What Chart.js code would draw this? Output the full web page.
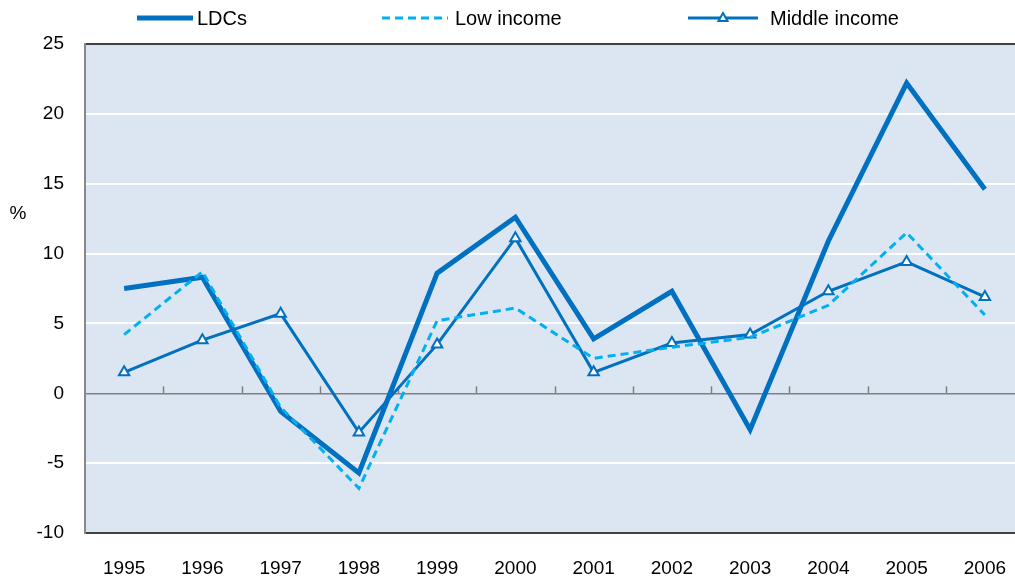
<!DOCTYPE html>
<html>
<head>
<meta charset="utf-8">
<script src="https://cdn.jsdelivr.net/npm/chart.js@4"></script>
<style>
  html, body { margin: 0; padding: 0; background: #fff; overflow: hidden; }
  #chart { display: block; }
</style>
</head>
<body>
<canvas id="chart" width="1032" height="578"></canvas>
<script>
const years = ['1995', '1996', '1997', '1998', '1999', '2000', '2001', '2002', '2003', '2004', '2005', '2006'];
const ldcs = [7.5, 8.3, -1.3, -5.7, 8.6, 12.6, 3.9, 7.3, -2.6, 10.9, 22.2, 14.6];
const lowIncome = [4.2, 8.7, -1.0, -6.8, 5.2, 6.1, 2.5, 3.3, 4.0, 6.3, 11.5, 5.6];
const middleIncome = [1.5, 3.8, 5.7, -2.8, 3.5, 11.1, 1.5, 3.6, 4.2, 7.3, 9.4, 6.9];
const yTicks = [-10, -5, 0, 5, 10, 15, 20, 25];

const fontFamily = '"Liberation Sans", Arial, sans-serif';

// plot background + category tick marks on the zero line
const plotBg = {
    id: 'plotBg',
    beforeDraw: function(chart) {
        const a = chart.chartArea;
        const ctx = chart.ctx;
        ctx.save();
        ctx.fillStyle = '#dce6f2';
        ctx.fillRect(a.left, a.top, a.right - a.left, a.bottom - a.top);
        ctx.restore();
    },
    beforeDatasetsDraw: function(chart) {
        const x = chart.scales.x, y = chart.scales.y;
        const ctx = chart.ctx;
        const y0 = y.getPixelForValue(0);
        const half = (x.getPixelForValue(1) - x.getPixelForValue(0)) / 2;
        ctx.save();
        ctx.strokeStyle = '#808080';
        ctx.lineWidth = 1.5;
        for (let i = 1; i < years.length; i++) {
            const px = Math.round(x.getPixelForValue(i) - half) + 0.5;
            ctx.beginPath();
            ctx.moveTo(px, y0);
            ctx.lineTo(px, y0 - 7);
            ctx.stroke();
        }
        ctx.restore();
    }
};

// legend along the top and the "%" unit label
const topLegend = {
    id: 'topLegend',
    afterDraw: function(chart) {
        const ctx = chart.ctx;
        const ly = 18;
        const items = [
            { ds: 0, x1: 137, x2: 193, tx: 197 },
            { ds: 1, x1: 382, x2: 448, tx: 455 },
            { ds: 2, x1: 688, x2: 758, tx: 770 }
        ];
        ctx.save();
        ctx.font = '20px ' + fontFamily;
        ctx.textBaseline = 'middle';
        ctx.fillStyle = '#000';
        items.forEach(function(it) {
            const d = chart.data.datasets[it.ds];
            ctx.save();
            ctx.strokeStyle = d.borderColor;
            ctx.lineWidth = d.borderWidth;
            ctx.setLineDash(d.borderDash || []);
            ctx.beginPath();
            ctx.moveTo(it.x1, ly);
            ctx.lineTo(it.x2, ly);
            ctx.stroke();
            ctx.restore();
            if (d.pointStyle === 'triangle') {
                const cx = (it.x1 + it.x2) / 2, r = 5;
                ctx.save();
                ctx.fillStyle = '#fff';
                ctx.strokeStyle = d.borderColor;
                ctx.lineWidth = 2;
                ctx.beginPath();
                ctx.moveTo(cx, ly - r);
                ctx.lineTo(cx + r * 0.9, ly + r * 0.6);
                ctx.lineTo(cx - r * 0.9, ly + r * 0.6);
                ctx.closePath();
                ctx.fill();
                ctx.stroke();
                ctx.restore();
            }
            ctx.fillText(d.label, it.tx, ly + 1);
        });
        ctx.font = '19px ' + fontFamily;
        ctx.textAlign = 'center';
        ctx.fillText('%', 18, 214);
        ctx.restore();
    }
};

new Chart(document.getElementById('chart').getContext('2d'), {
    type: 'line',
    data: {
        labels: years,
        datasets: [{
            label: 'LDCs',
            data: ldcs,
            borderColor: '#0070c0',
            borderWidth: 5,
            pointRadius: 0,
            order: 2
        }, {
            label: 'Low income',
            data: lowIncome,
            borderColor: '#00b0f0',
            borderWidth: 3,
            borderDash: [8, 5],
            pointRadius: 0,
            order: 0
        }, {
            label: 'Middle income',
            data: middleIncome,
            borderColor: '#0070c0',
            borderWidth: 3,
            pointStyle: 'triangle',
            pointRadius: 6,
            pointBackgroundColor: '#fff',
            pointBorderColor: '#0070c0',
            pointBorderWidth: 2,
            order: 1
        }]
    },
    options: {
        responsive: false,
        animation: false,
        layout: { padding: { top: 44, left: 0, right: 0, bottom: 0 } },
        plugins: {
            legend: { display: false },
            tooltip: { enabled: false }
        },
        elements: { line: { tension: 0 } },
        scales: {
            x: {
                offset: true,
                afterFit: function(s) { s.height = 45; s.paddingLeft = 0; s.paddingRight = 0; },
                grid: { display: false, drawTicks: false },
                border: { display: true, color: '#404040', width: 2 },
                ticks: { color: '#000', padding: 24, font: { family: fontFamily, size: 19 } }
            },
            y: {
                min: -10,
                max: 25,
                afterFit: function(s) { s.width = 85; },
                afterBuildTicks: function(s) { s.ticks = yTicks.map(function(v) { return { value: v }; }); },
                grid: {
                    drawTicks: false,
                    color: function(c) {
                        if (c.tick.value === 0) return '#808080';
                        if (c.tick.value === 25 || c.tick.value === -10) return '#404040';
                        return '#ffffff';
                    },
                    lineWidth: function(c) {
                        return c.tick.value === 0 ? 1.5 : 2;
                    }
                },
                border: { display: true, color: '#888888', width: 2 },
                ticks: { color: '#000', padding: 21, font: { family: fontFamily, size: 19 } }
            }
        }
    },
    plugins: [plotBg, topLegend]
});
</script>
</body>
</html>
